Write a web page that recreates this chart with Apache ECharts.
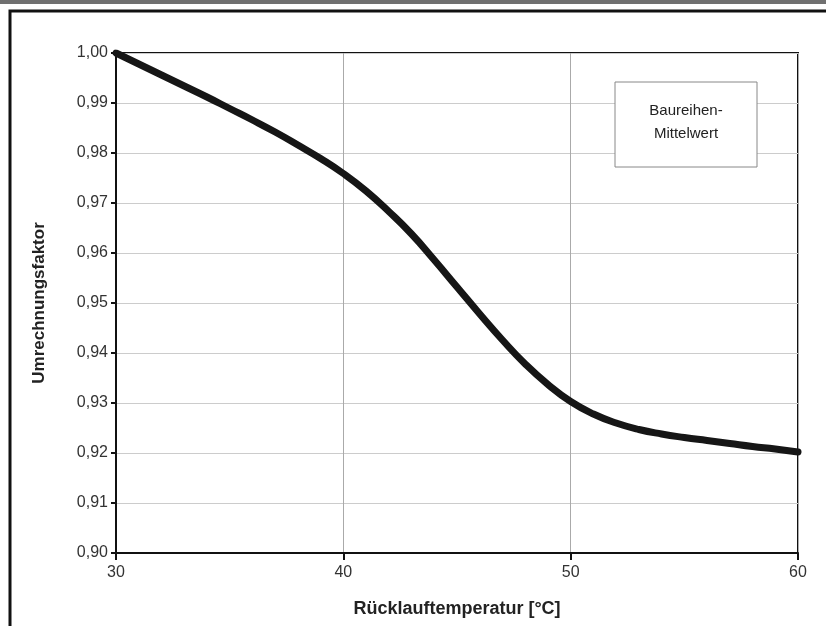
<!DOCTYPE html>
<html><head><meta charset="utf-8">
<script src="https://cdn.jsdelivr.net/npm/echarts@6/dist/echarts.min.js"></script>
<style>html,body{margin:0;padding:0;background:#fff}#c{width:826px;height:626px}</style>
</head><body><div id="c"></div>
<script>
const temps = [30,31,32,33,34,35,36,37,38,39,40,41,42,43,44,45,46,47,48,49,50,51,52,53,54,55,56,57,58,59,60];
const factors = [1.0000,0.9978,0.9956,0.9934,0.9912,0.9889,0.9866,0.9842,0.9816,0.9789,0.9759,0.9724,0.9683,0.9638,0.9586,0.9532,0.9478,0.9426,0.9378,0.9337,0.9303,0.9278,0.9260,0.9247,0.9238,0.9231,0.9225,0.9219,0.9213,0.9208,0.9202];
const xTitle = 'Rücklauftemperatur [°C]';
const yTitle = 'Umrechnungsfaktor';
const legendLines = ['Baureihen-', 'Mittelwert'];

const font = "'Liberation Sans', Arial, Helvetica, sans-serif";
const chart = echarts.init(document.getElementById('c'), null, {renderer:'canvas'});
chart.setOption({
  backgroundColor:'#fff',
  animation:false,
  grid:{left:116, top:53, right:28, bottom:73, show:true, borderColor:'#111', borderWidth:2, backgroundColor:'transparent'},
  xAxis:{type:'value', min:30, max:60, interval:10,
    name:xTitle, nameLocation:'middle', nameGap:47,
    nameTextStyle:{fontFamily:font, fontSize:18, fontWeight:'bold', color:'#222'},
    axisLine:{lineStyle:{color:'#111', width:2}},
    axisTick:{show:true, length:7, lineStyle:{color:'#111', width:2}},
    axisLabel:{fontFamily:font, fontSize:16, color:'#333', margin:12},
    splitLine:{show:true, lineStyle:{color:'#aaa', width:1}}},
  yAxis:{type:'value', min:0.9, max:1.0, interval:0.01,
    name:yTitle, nameLocation:'middle', nameGap:68, nameRotate:90,
    nameTextStyle:{fontFamily:font, fontSize:17, fontWeight:'bold', color:'#222'},
    axisLine:{show:true, lineStyle:{color:'#111', width:2}},
    axisTick:{show:true, length:5, lineStyle:{color:'#111', width:2}},
    axisLabel:{fontFamily:font, fontSize:16, color:'#333', margin:8,
      formatter:v=>v.toFixed(2).replace('.',',')},
    splitLine:{show:true, lineStyle:{color:'#ccc', width:1}}},
  series:[{type:'line', data:temps.map((t,i)=>[t,factors[i]]), smooth:0.5,
    symbol:'none', lineStyle:{color:'#161616', width:7, cap:'round', join:'round'}}],
  graphic:[
    {type:'rect', shape:{x:0,y:0,width:826,height:4}, style:{fill:'#707070'}, z:10},
    {type:'rect', shape:{x:10,y:11,width:830,height:640}, style:{fill:'none', stroke:'#111', lineWidth:3}, z:10},
    {type:'rect', shape:{x:615,y:82,width:142,height:85}, style:{fill:'#fff', stroke:'#888', lineWidth:1}, z:10},
    {type:'text', x:686, y:111, style:{text:legendLines[0], font:'500 15px '+font, fill:'#222', textAlign:'center', textVerticalAlign:'middle'}, z:11},
    {type:'text', x:686, y:134, style:{text:legendLines[1], font:'500 15px '+font, fill:'#222', textAlign:'center', textVerticalAlign:'middle'}, z:11}
  ]
});
</script></body></html>
